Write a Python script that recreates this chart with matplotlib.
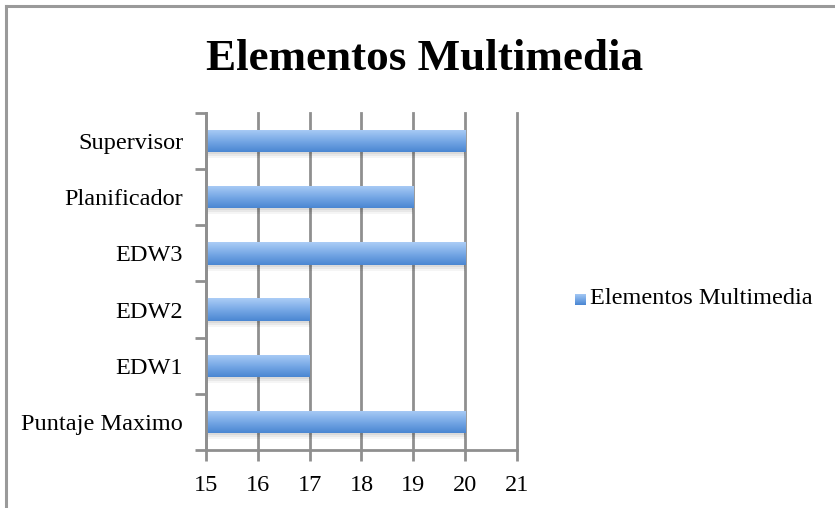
import numpy as np
import matplotlib
matplotlib.use("Agg")
import matplotlib.pyplot as plt
from matplotlib.colors import LinearSegmentedColormap
from matplotlib.transforms import ScaledTranslation
from matplotlib.lines import Line2D

categories = ["Puntaje Maximo", "EDW1", "EDW2", "EDW3", "Planificador", "Supervisor"]
values = [20, 17, 17, 20, 19, 20]
series_name = "Elementos Multimedia"
title = "Elementos Multimedia"
x_ticks = [15, 16, 17, 18, 19, 20, 21]

plt.rcParams['font.family'] = ['Liberation Serif', 'DejaVu Serif']

fig = plt.figure(figsize=(8.35, 5.08), dpi=100)
ax = fig.add_axes([206 / 835, 1 - 450 / 508, (517 - 206) / 835, (450 - 113) / 508])

grad = LinearSegmentedColormap.from_list("bar", ["#4a86d2", "#78a9e6", "#abcdf6"])
grey = "#8f8f8f"

y = np.arange(len(categories))
h = 0.4
left = x_ticks[0]
widths = [v - left for v in values]

# soft drop shadow under each bar
for k, a in enumerate([0.06, 0.05, 0.04]):
    sh = ax.barh(y, widths, height=h, left=left, color="#000000", alpha=a,
                 zorder=2, linewidth=0)
    for p in sh:
        p.set_transform(ax.transData + ScaledTranslation(0, -(2 + 2 * k) / 100, fig.dpi_scale_trans))

bars = ax.barh(y, widths, height=h, left=left, color="none", linewidth=0, zorder=3)
g = np.linspace(0, 1, 64).reshape(-1, 1)
for p in bars:
    x0, y0 = p.get_x(), p.get_y()
    im = ax.imshow(g, cmap=grad, aspect="auto", origin="lower",
                   extent=[x0, x0 + p.get_width(), y0, y0 + p.get_height()], zorder=3)
    im.set_clip_path(p)

ax.set_xlim(x_ticks[0], x_ticks[-1])
ax.set_ylim(-0.5, len(categories) - 0.5)
ax.set_xticks(x_ticks)
ax.set_xticklabels([str(t) for t in x_ticks], fontsize=17.5)
ax.set_yticks(y)
ax.set_yticklabels(categories, fontsize=17.5)
ax.set_yticks(np.arange(len(categories) + 1) - 0.5, minor=True)
ax.tick_params(axis="y", which="major", length=0, pad=16.5)
ax.tick_params(axis="y", which="minor", length=8, width=2, color=grey)
ax.tick_params(axis="x", which="major", length=8, width=2, color=grey, pad=10)

ax.grid(axis="x", color=grey, linewidth=2, zorder=1)
for gl in ax.get_xgridlines():
    gl.set_clip_on(False)
ax.set_axisbelow(True)
for side in ("top", "right"):
    ax.spines[side].set_visible(False)
for side in ("left", "bottom"):
    ax.spines[side].set_color(grey)
    ax.spines[side].set_linewidth(2)
    ax.spines[side].set_zorder(4)

fig.text(425 / 835, 1 - 59 / 508, title, ha="center", va="center",
         fontsize=32.5, fontweight="bold")

# legend
lax = fig.add_axes([575 / 835, 1 - 305 / 508, 11 / 835, 11 / 508])
lax.imshow(g, cmap=grad, aspect="auto", origin="lower", extent=[0, 1, 0, 1])
lax.set_axis_off()
fig.text(590 / 835, 1 - 299 / 508, series_name, ha="left", va="center", fontsize=17.5)

# outer frame
fig.add_artist(Line2D([5.5 / 835, 1], [1 - 6 / 508, 1 - 6 / 508], color="#9a9a9a",
                      linewidth=2.2, transform=fig.transFigure))
fig.add_artist(Line2D([5.5 / 835, 5.5 / 835], [0, 1 - 6 / 508], color="#9a9a9a",
                      linewidth=2.2, transform=fig.transFigure))

fig.savefig("out.png", dpi=100)
